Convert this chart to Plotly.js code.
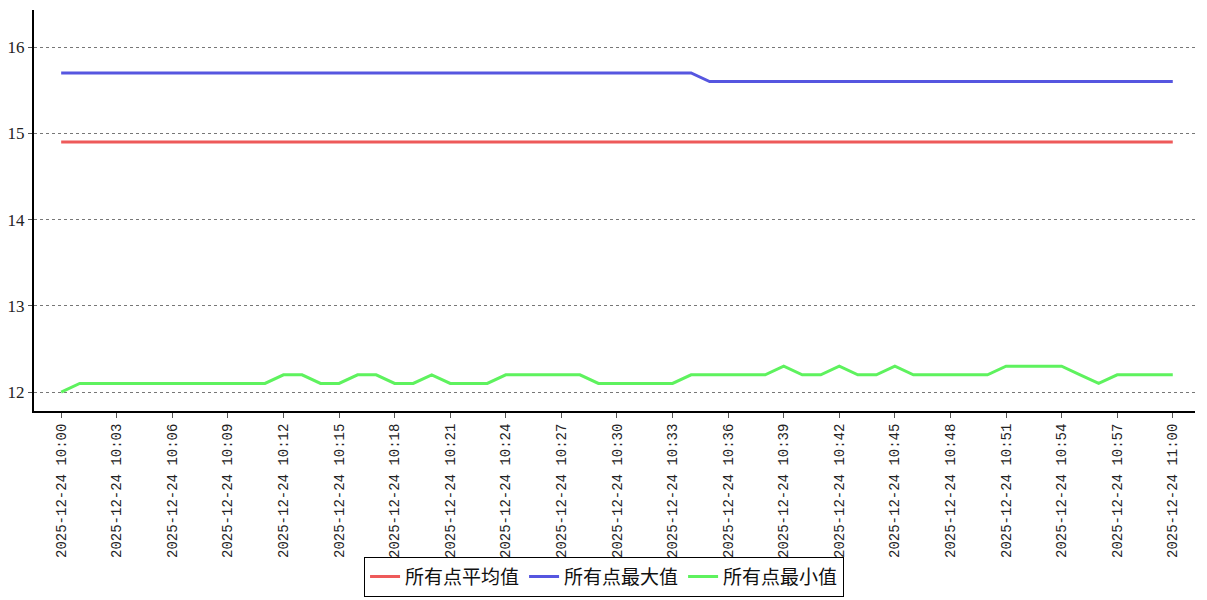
<!DOCTYPE html>
<html>
<head>
<meta charset="utf-8">
<script src="https://cdn.plot.ly/plotly-3.0.1.min.js"></script>
<style>html,body{margin:0;padding:0;background:#fff;}#chart{width:1207px;height:600px;}</style>
</head>
<body>
<div id="chart"></div>
<script>
const times = [
"2025-12-24 10:00","2025-12-24 10:01","2025-12-24 10:02","2025-12-24 10:03","2025-12-24 10:04",
"2025-12-24 10:05","2025-12-24 10:06","2025-12-24 10:07","2025-12-24 10:08","2025-12-24 10:09",
"2025-12-24 10:10","2025-12-24 10:11","2025-12-24 10:12","2025-12-24 10:13","2025-12-24 10:14",
"2025-12-24 10:15","2025-12-24 10:16","2025-12-24 10:17","2025-12-24 10:18","2025-12-24 10:19",
"2025-12-24 10:20","2025-12-24 10:21","2025-12-24 10:22","2025-12-24 10:23","2025-12-24 10:24",
"2025-12-24 10:25","2025-12-24 10:26","2025-12-24 10:27","2025-12-24 10:28","2025-12-24 10:29",
"2025-12-24 10:30","2025-12-24 10:31","2025-12-24 10:32","2025-12-24 10:33","2025-12-24 10:34",
"2025-12-24 10:35","2025-12-24 10:36","2025-12-24 10:37","2025-12-24 10:38","2025-12-24 10:39",
"2025-12-24 10:40","2025-12-24 10:41","2025-12-24 10:42","2025-12-24 10:43","2025-12-24 10:44",
"2025-12-24 10:45","2025-12-24 10:46","2025-12-24 10:47","2025-12-24 10:48","2025-12-24 10:49",
"2025-12-24 10:50","2025-12-24 10:51","2025-12-24 10:52","2025-12-24 10:53","2025-12-24 10:54",
"2025-12-24 10:55","2025-12-24 10:56","2025-12-24 10:57","2025-12-24 10:58","2025-12-24 10:59",
"2025-12-24 11:00"
];
const avgValues = [
14.9,14.9,14.9,14.9,14.9,14.9,14.9,14.9,14.9,14.9,
14.9,14.9,14.9,14.9,14.9,14.9,14.9,14.9,14.9,14.9,
14.9,14.9,14.9,14.9,14.9,14.9,14.9,14.9,14.9,14.9,
14.9,14.9,14.9,14.9,14.9,14.9,14.9,14.9,14.9,14.9,
14.9,14.9,14.9,14.9,14.9,14.9,14.9,14.9,14.9,14.9,
14.9,14.9,14.9,14.9,14.9,14.9,14.9,14.9,14.9,14.9,
14.9
];
const maxValues = [
15.7,15.7,15.7,15.7,15.7,15.7,15.7,15.7,15.7,15.7,
15.7,15.7,15.7,15.7,15.7,15.7,15.7,15.7,15.7,15.7,
15.7,15.7,15.7,15.7,15.7,15.7,15.7,15.7,15.7,15.7,
15.7,15.7,15.7,15.7,15.7,15.6,15.6,15.6,15.6,15.6,
15.6,15.6,15.6,15.6,15.6,15.6,15.6,15.6,15.6,15.6,
15.6,15.6,15.6,15.6,15.6,15.6,15.6,15.6,15.6,15.6,
15.6
];
const minValues = [
12.0,12.1,12.1,12.1,12.1,12.1,12.1,12.1,12.1,12.1,
12.1,12.1,12.2,12.2,12.1,12.1,12.2,12.2,12.1,12.1,
12.2,12.1,12.1,12.1,12.2,12.2,12.2,12.2,12.2,12.1,
12.1,12.1,12.1,12.1,12.2,12.2,12.2,12.2,12.2,12.3,
12.2,12.2,12.3,12.2,12.2,12.3,12.2,12.2,12.2,12.2,
12.2,12.3,12.3,12.3,12.3,12.2,12.1,12.2,12.2,12.2,
12.2
];
const seriesNames = ["所有点平均值","所有点最大值","所有点最小值"];
const seriesColors = ["#ee5a5a","#5656e0","#5ef25e"];
const yTicks = [12,13,14,15,16];

const seriesValues = [avgValues, maxValues, minValues];
const traces = seriesValues.map((vals, i) => ({
  type: "scatter",
  mode: "lines",
  x: times,
  y: vals,
  name: seriesNames[i],
  line: {color: seriesColors[i], width: 3},
  hoverinfo: "x+y+name"
}));

const monoFont = "Liberation Mono, DejaVu Sans Mono, monospace";

const layout = {
  width: 1207,
  height: 600,
  margin: {l: 34, r: 12, t: 10, b: 189, autoexpand: false},
  paper_bgcolor: "#ffffff",
  plot_bgcolor: "#ffffff",
  showlegend: true,
  font: {family: monoFont, color: "#222"},
  xaxis: {
    type: "date",
    range: ["2025-12-24 09:58:32", "2025-12-24 11:01:12"],
    tickmode: "linear",
    tick0: "2025-12-24 10:00",
    dtick: 180000,
    tickformat: "%Y-%m-%d\u00a0%H:%M",
    tickangle: -90,
    tickfont: {family: monoFont, size: 14, color: "#222"},
    showgrid: false,
    zeroline: false,
    showline: true,
    linecolor: "#000",
    linewidth: 2,
    ticks: "outside",
    ticklen: 5,
    tickcolor: "#555",
    automargin: false,
    fixedrange: true
  },
  yaxis: {
    range: [11.78, 16.43],
    tickvals: yTicks,
    ticktext: yTicks.map(String),
    tickfont: {family: "Liberation Serif, DejaVu Serif, serif", size: 17, color: "#222"},
    showgrid: true,
    gridcolor: "#777",
    griddash: "dot",
    gridwidth: 1,
    zeroline: false,
    showline: true,
    linecolor: "#000",
    linewidth: 2,
    ticks: "outside",
    ticklen: 4,
    tickcolor: "#555",
    automargin: false,
    fixedrange: true
  },
  legend: {
    orientation: "h",
    x: 0.491,
    xanchor: "center",
    y: -0.463,
    yanchor: "bottom",
    bordercolor: "#000",
    borderwidth: 1,
    bgcolor: "rgba(255,255,255,0)",
    font: {family: "Noto Sans CJK SC, sans-serif", size: 19, color: "#111"},
    itemwidth: 30,
    tracegroupgap: 0
  }
};

Plotly.newPlot("chart", traces, layout, {displayModeBar: false, staticPlot: true});
</script>
</body>
</html>
